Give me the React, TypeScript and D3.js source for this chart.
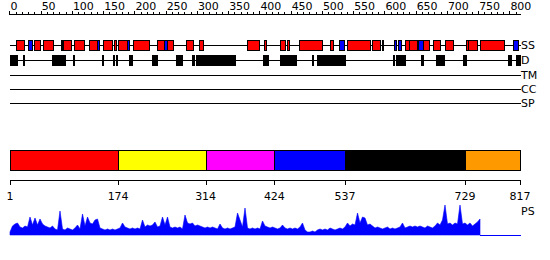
import React from 'react';
import * as d3 from 'd3';

const SEQ_LENGTH = 817;
const TOP_LABELS = [0, 50, 100, 150, 200, 250, 300, 350, 400, 450, 500, 550, 600, 650, 700, 750, 800];
const TOP_MINOR = [0, 10, 20, 30, 40, 50, 60, 70, 80, 90, 100, 110, 120, 130, 140, 150, 160, 170, 180, 190, 200, 210, 220, 230, 240, 250, 260, 270, 280, 290, 300, 310, 320, 330, 340, 350, 360, 370, 380, 390, 400, 410, 420, 430, 440, 450, 460, 470, 480, 490, 500, 510, 520, 530, 540, 550, 560, 570, 580, 590, 600, 610, 620, 630, 640, 650, 660, 670, 680, 690, 700, 710, 720, 730, 740, 750, 760, 770, 780, 790, 800, 810];

const HELIX: [number, number][] = [
  [10, 23], [39, 49], [54, 70], [82, 83], [86, 99], [103, 119], [127, 140], [150, 164],
  [167, 170], [174, 188], [198, 224], [236, 249], [252, 262], [283, 294], [304, 310],
  [380, 400], [408, 411], [433, 441], [444, 448], [464, 500], [513, 518], [540, 577],
  [580, 593], [597, 598], [633, 639], [640, 652], [662, 672], [678, 689], [697, 710],
  [731, 734], [734, 749], [753, 792],
];
const STRAND: [number, number][] = [
  [30, 36], [140, 143], [188, 191], [247, 252], [528, 536], [616, 619], [622, 627],
  [654, 662], [806, 814],
];
const DISORDER: [number, number][] = [
  [1, 12], [21, 22], [68, 89], [101, 102], [148, 149], [166, 167], [170, 171], [191, 196],
  [228, 236], [267, 276], [292, 295], [299, 361], [405, 406], [409, 410], [412, 413],
  [433, 459], [484, 486], [492, 537], [614, 615], [619, 633], [659, 662], [683, 696],
  [726, 727], [729, 730], [798, 803], [811, 817],
];
const TRACKS = ['SS', 'D', 'TM', 'CC', 'SP'];
const DOMAIN_BOUNDS = [1, 174, 314, 424, 537, 729, 817];
const DOMAIN_COLORS = ['#ff0000', '#ffff00', '#ff00ff', '#0000ff', '#000000', '#ff9900'];

const PS_STEP = 4;
const PS_VALUES = [
  3, 9, 11, 12, 8, 7, 9, 8, 18, 10,
  17, 10, 16, 11, 9, 8, 7, 9, 6, 5,
  24, 6, 5, 7, 6, 5, 7, 10, 6, 21,
  9, 18, 12, 11, 15, 16, 7, 6, 5, 6,
  5, 6, 5, 6, 7, 12, 8, 7, 6, 7,
  6, 7, 6, 15, 8, 10, 9, 10, 13, 8,
  9, 18, 10, 18, 8, 7, 8, 7, 8, 6,
  20, 12, 11, 12, 9, 10, 9, 8, 7, 8,
  7, 8, 7, 6, 11, 7, 6, 7, 6, 7,
  8, 22, 15, 8, 27, 7, 6, 7, 6, 7,
  6, 14, 9, 8, 7, 8, 7, 6, 7, 10,
  7, 6, 7, 6, 7, 6, 8, 12, 5, 3,
  3, 4, 3, 5, 6, 5, 6, 5, 7, 6,
  5, 6, 7, 6, 8, 12, 9, 11, 10, 22,
  12, 18, 17, 10, 11, 9, 7, 8, 7, 6,
  7, 8, 6, 7, 6, 7, 8, 12, 7, 8,
  9, 8, 9, 8, 9, 8, 7, 9, 8, 7,
  9, 12, 10, 15, 30, 11, 12, 10, 12, 11,
  30, 11, 12, 10, 12, 9, 11, 13, 16,
];

const FONT = '"DejaVu Sans", Verdana, sans-serif';

export default function App() {
  const W = 550;
  const H = 260;
  const x = d3.scaleLinear().domain([1, SEQ_LENGTH]).range([10, 520]);
  const xEnd = x(SEQ_LENGTH);
  const px = (v: number) => Math.round(v) + 0.5;

  const axisY = 14;
  const ssY = 45;
  const dY = 60;
  const trackY = [ssY, dY, 75, 89, 103];
  const boxH = 10;

  const barTop = 150;
  const barH = 20;
  const botAxisY = 180;

  const psBase = 235;
  const y = d3.scaleLinear().domain([0, 30]).range([psBase, psBase - 30]);
  const psData = PS_VALUES.map((v, i) => ({ r: 1 + i * PS_STEP, v }));
  const lastR = psData[psData.length - 1].r;
  const area = d3
    .area<{ r: number; v: number }>()
    .x((d) => x(d.r))
    .y0(psBase)
    .y1((d) => y(d.v))
    .curve(d3.curveLinear);

  const box = (ranges: [number, number][], cy: number, fill: string, key: string) =>
    ranges.map(([a, b], i) => {
      const x0 = px(x(a));
      const x1 = Math.max(px(x(b)), x0 + 1);
      return (
        <rect
          key={key + i}
          x={x0}
          y={cy - boxH / 2 + 0.5}
          width={x1 - x0}
          height={boxH}
          fill={fill}
          stroke="#000"
          strokeWidth={1}
        />
      );
    });

  return (
    <div style={{ position: 'absolute', left: 0, top: 0 }}>
      <svg width={W} height={H} style={{ display: 'block', background: '#fff' }} shapeRendering="crispEdges">
        {/* top ruler */}
        <line x1={px(x(0))} x2={px(xEnd)} y1={axisY + 0.5} y2={axisY + 0.5} stroke="#000" />
        {TOP_MINOR.map((t) => (
          <line
            key={'m' + t}
            x1={px(x(t))}
            x2={px(x(t))}
            y1={axisY + 0.5}
            y2={TOP_LABELS.includes(t) ? axisY - 3 : axisY - 2}
            stroke="#000"
          />
        ))}
        {TOP_LABELS.map((t) => (
          <text key={'l' + t} x={x(t) + 1} y={10} fontFamily={FONT} fontSize={11} fill="#000">
            {t}
          </text>
        ))}

        {/* track lines */}
        {trackY.map((ty, i) => (
          <g key={'t' + i}>
            <line x1={10} x2={xEnd + 1} y1={ty + 0.5} y2={ty + 0.5} stroke="#000" />
            <text x={xEnd + 1} y={ty + 4} fontFamily={FONT} fontSize={11} fill="#000">
              {TRACKS[i]}
            </text>
          </g>
        ))}
        {box(HELIX, ssY, '#ff0000', 'h')}
        {box(STRAND, ssY, '#0000ff', 's')}
        {box(DISORDER, dY, '#000000', 'd')}

        {/* domain bar */}
        {DOMAIN_COLORS.map((c, i) => {
          const x0 = px(x(DOMAIN_BOUNDS[i]));
          const x1 = px(x(DOMAIN_BOUNDS[i + 1]));
          return (
            <rect key={'b' + i} x={x0} y={barTop + 0.5} width={x1 - x0} height={barH} fill={c} stroke="#000" />
          );
        })}
        <line x1={px(x(1))} x2={px(xEnd)} y1={botAxisY + 0.5} y2={botAxisY + 0.5} stroke="#000" />
        {DOMAIN_BOUNDS.map((b) => (
          <g key={'a' + b}>
            <line x1={px(x(b))} x2={px(x(b))} y1={botAxisY} y2={botAxisY + 5} stroke="#000" />
            <text x={x(b)} y={200} textAnchor="middle" fontFamily={FONT} fontSize={11} fill="#000">
              {b}
            </text>
          </g>
        ))}

        {/* PS plot */}
        <text x={xEnd + 1} y={215} fontFamily={FONT} fontSize={11} fill="#000">
          PS
        </text>
        <path d={area(psData) || ''} fill="#0000ff" stroke="#0000ff" strokeWidth={0.6} shapeRendering="auto" />
        <line x1={Math.round(x(lastR))} x2={px(xEnd)} y1={psBase + 0.5} y2={psBase + 0.5} stroke="#0000ff" />
      </svg>
    </div>
  );
}
